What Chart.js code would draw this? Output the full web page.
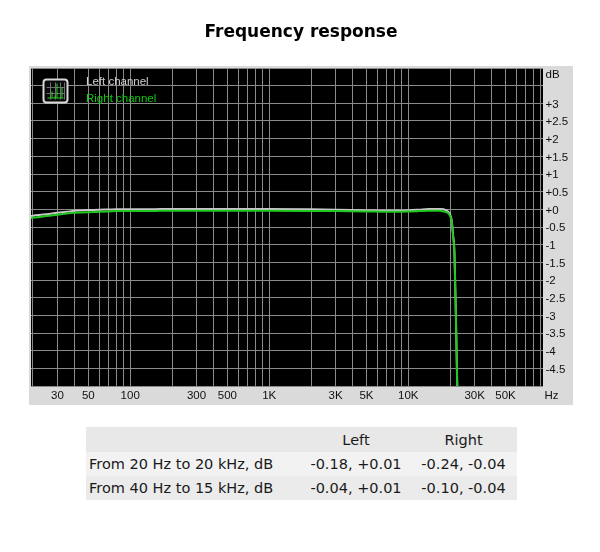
<!DOCTYPE html>
<html>
<head>
<meta charset="utf-8">
<script src="https://cdn.jsdelivr.net/npm/chart.js@4.4.1/dist/chart.umd.min.js"></script>
<style>
  html, body { margin: 0; padding: 0; background: #fff; }
  #wrap { position: relative; width: 600px; height: 552px; overflow: hidden; }
  #c { position: absolute; left: 0; top: 0; }
  #title { position: absolute; left: 0; top: 21px; width: 602px; text-align: center;
           font: bold 17px "DejaVu Sans", Verdana, sans-serif; color: #000; line-height: 20px; }
  #tbl { position: absolute; left: 86px; top: 427px; width: 431px; border-collapse: collapse;
         font: 14.5px "DejaVu Sans", Verdana, sans-serif; color: #1a1a1a; }
  #tbl td { padding: 0; white-space: nowrap; }
  #tbl tr.h { background: #e8e8e8; height: 25px; }
  #tbl tr.r1 { background: #f2f2f2; height: 24px; }
  #tbl tr.r2 { background: #ebebeb; height: 24px; }
  #tbl td.c { text-align: center; }
  #tbl td.l { padding-left: 3px; }
</style>
</head>
<body>
<div id="wrap">
  <canvas id="c" width="600" height="552"></canvas>
  <div id="title">Frequency response</div>
  <table id="tbl"></table>
</div>
<script>
// ---- data ----
const freqHz = [19, 20, 25, 30, 35, 40, 50, 60, 70, 80,
                100, 150, 200, 300, 500, 1000, 2000, 3000, 5000, 7000,
                10000, 12000, 14000, 16000, 17000, 18000, 18500, 19000, 19500, 20000,
                20500, 21000, 21500, 22000, 22500, 23000];
const leftDb = [-0.19, -0.18, -0.14, -0.10, -0.07, -0.04, -0.02, -0.01, -0.005, 0,
                0, 0.005, 0.01, 0.01, 0.01, 0.01, 0.0, -0.01, -0.03, -0.04,
                -0.03, -0.01, 0.01, 0.01, 0.01, 0.0, -0.02, -0.04, -0.08, -0.15,
                -0.30, -0.72, -1.25, -3.0, -4.95, -7.0];
const rightDb = [-0.25, -0.24, -0.19, -0.15, -0.12, -0.10, -0.08, -0.07, -0.06, -0.05,
                 -0.05, -0.045, -0.04, -0.04, -0.04, -0.04, -0.045, -0.05, -0.06, -0.07,
                 -0.06, -0.05, -0.04, -0.04, -0.04, -0.06, -0.07, -0.09, -0.12, -0.19,
                 -0.33, -0.75, -1.3, -3.05, -5.0, -7.05];
const seriesNames = ['Left channel', 'Right channel'];
const xGridHz = [20, 30, 40, 50, 60, 70, 80, 90,
                 100, 200, 300, 400, 500, 600, 700, 800, 900,
                 1000, 2000, 3000, 4000, 5000, 6000, 7000, 8000, 9000,
                 10000, 20000, 30000, 40000, 50000, 60000, 70000, 80000, 90000];
const xTickHz = [30, 50, 100, 300, 500, 1000, 3000, 5000, 10000, 30000, 50000];
const xTickLabels = ['30', '50', '100', '300', '500', '1K', '3K', '5K', '10K', '30K', '50K'];
const yTickDb = [3, 2.5, 2, 1.5, 1, 0.5, 0, -0.5, -1, -1.5, -2, -2.5, -3, -3.5, -4, -4.5];
const yTickLabels = ['+3', '+2.5', '+2', '+1.5', '+1', '+0.5', '+0', '-0.5', '-1', '-1.5', '-2', '-2.5', '-3', '-3.5', '-4', '-4.5'];
const tableHeader = ['', 'Left', 'Right'];
const tableRows = [
  ['From 20 Hz to 20 kHz, dB', '-0.18, +0.01', '-0.24, -0.04'],
  ['From 40 Hz to 15 kHz, dB', '-0.04, +0.01', '-0.10, -0.04']
];

// ---- table ----
(function () {
  const t = document.getElementById('tbl');
  let html = '<colgroup><col style="width:216px"><col style="width:108px"><col style="width:107px"></colgroup>';
  html += '<tr class="h">' + tableHeader.map((h, i) => '<td class="' + (i ? 'c' : 'l') + '">' + h + '</td>').join('') + '</tr>';
  tableRows.forEach((r, k) => {
    html += '<tr class="' + (k % 2 ? 'r2' : 'r1') + '">' + r.map((v, i) => '<td class="' + (i ? 'c' : 'l') + '">' + v + '</td>').join('') + '</tr>';
  });
  t.innerHTML = html;
})();

const LEFT_COLOR = '#c8c8c8';
const RIGHT_COLOR = '#1ec81e';
const GRID_COLOR = '#8a8a8a';
const LABEL_FONT = '11.5px "Liberation Sans", Arial, sans-serif';

const framePlugin = {
  id: 'frame',
  beforeDraw(chart) {
    const ctx = chart.ctx, a = chart.chartArea;
    ctx.save();
    ctx.fillStyle = '#dadada';
    ctx.fillRect(29, 66, 544, 339);
    ctx.fillStyle = '#000';
    ctx.fillRect(a.left, a.top, a.right - a.left, a.bottom - a.top);
    ctx.restore();
  },
  afterDraw(chart) {
    const ctx = chart.ctx, a = chart.chartArea;
    const xs = chart.scales.x, ys = chart.scales.y;
    ctx.save();
    // axis labels
    ctx.font = LABEL_FONT;
    ctx.fillStyle = '#111';
    ctx.textBaseline = 'middle';
    ctx.textAlign = 'left';
    yTickDb.forEach((v, i) => ctx.fillText(yTickLabels[i], a.right + 2.5, ys.getPixelForValue(v) + 1));
    ctx.fillText('dB', a.right + 2.5, a.top + 6.5);
    ctx.textAlign = 'center';
    xTickHz.forEach((f, i) => ctx.fillText(xTickLabels[i], xs.getPixelForValue(f), a.bottom + 9.5));
    ctx.fillText('Hz', 551.5, a.bottom + 9.5);

    // legend icon
    const ix = 43.5, iy = 79.5, iw = 24, ih = 23;
    ctx.fillStyle = '#0a0a0a';
    ctx.beginPath();
    ctx.roundRect(ix, iy, iw, ih, 3);
    ctx.fill();
    ctx.strokeStyle = '#707070';
    ctx.lineWidth = 1;
    ctx.beginPath();
    [ix + 6, ix + 11, ix + 16, ix + 20].forEach(x => { ctx.moveTo(Math.round(x) + 0.5, iy + 3); ctx.lineTo(Math.round(x) + 0.5, iy + ih - 3); });
    [iy + 7, iy + 13].forEach(y => { ctx.moveTo(ix + 3, Math.round(y) + 0.5); ctx.lineTo(ix + iw - 3, Math.round(y) + 0.5); });
    ctx.stroke();
    ctx.strokeStyle = '#22d022';
    ctx.beginPath();
    ctx.moveTo(ix + 4, iy + ih - 4.5); ctx.lineTo(ix + iw - 4, iy + ih - 4.5);
    ctx.moveTo(ix + 8.5, iy + ih - 4.5); ctx.lineTo(ix + 8.5, iy + 12);
    ctx.moveTo(ix + 13.5, iy + ih - 4.5); ctx.lineTo(ix + 13.5, iy + 4);
    ctx.moveTo(ix + 18.5, iy + ih - 4.5); ctx.lineTo(ix + 18.5, iy + 8);
    ctx.moveTo(ix + 11.5, iy + ih - 4.5); ctx.lineTo(ix + 11.5, iy + 16);
    ctx.stroke();
    ctx.strokeStyle = '#d8d8d8';
    ctx.lineWidth = 2;
    ctx.beginPath();
    ctx.roundRect(ix, iy, iw, ih, 3);
    ctx.stroke();

    // legend text from datasets
    ctx.font = LABEL_FONT;
    ctx.textAlign = 'left';
    ctx.textBaseline = 'middle';
    chart.data.datasets.forEach((ds, i) => {
      ctx.fillStyle = ds.legendColor;
      ctx.fillText(ds.label, 86, 81.5 + i * 17.5);
    });
    ctx.restore();
  }
};

const ctxEl = document.getElementById('c');
new Chart(ctxEl, {
  type: 'line',
  data: {
    datasets: [
      {
        label: seriesNames[0],
        data: freqHz.map((f, i) => ({ x: f, y: leftDb[i] })),
        borderColor: LEFT_COLOR,
        legendColor: '#cfcfcf',
        borderWidth: 2,
        pointRadius: 0,
        cubicInterpolationMode: 'monotone',
        order: 2,
        clip: 0
      },
      {
        label: seriesNames[1],
        data: freqHz.map((f, i) => ({ x: f, y: rightDb[i] })),
        borderColor: RIGHT_COLOR,
        legendColor: '#10c810',
        borderWidth: 2,
        pointRadius: 0,
        cubicInterpolationMode: 'monotone',
        order: 1,
        clip: 0
      }
    ]
  },
  options: {
    responsive: false,
    animation: false,
    events: [],
    layout: { padding: { left: 31, top: 68, right: 57, bottom: 166 } },
    plugins: { legend: { display: false }, tooltip: { enabled: false }, title: { display: false } },
    scales: {
      x: {
        type: 'logarithmic',
        min: 19.35,
        max: 93100,
        afterBuildTicks: s => { s.ticks = xGridHz.map(v => ({ value: v })); },
        afterFit: s => { s.height = 0; },
        ticks: { display: false, autoSkip: false },
        grid: { color: GRID_COLOR, lineWidth: 1, drawTicks: false },
        border: { display: false }
      },
      y: {
        type: 'linear',
        min: -5,
        max: 4,
        afterFit: s => { s.width = 0; },
        ticks: { display: false, stepSize: 0.5 },
        grid: { color: GRID_COLOR, lineWidth: 1, drawTicks: false },
        border: { display: false }
      }
    }
  },
  plugins: [framePlugin]
});
</script>
</body>
</html>
